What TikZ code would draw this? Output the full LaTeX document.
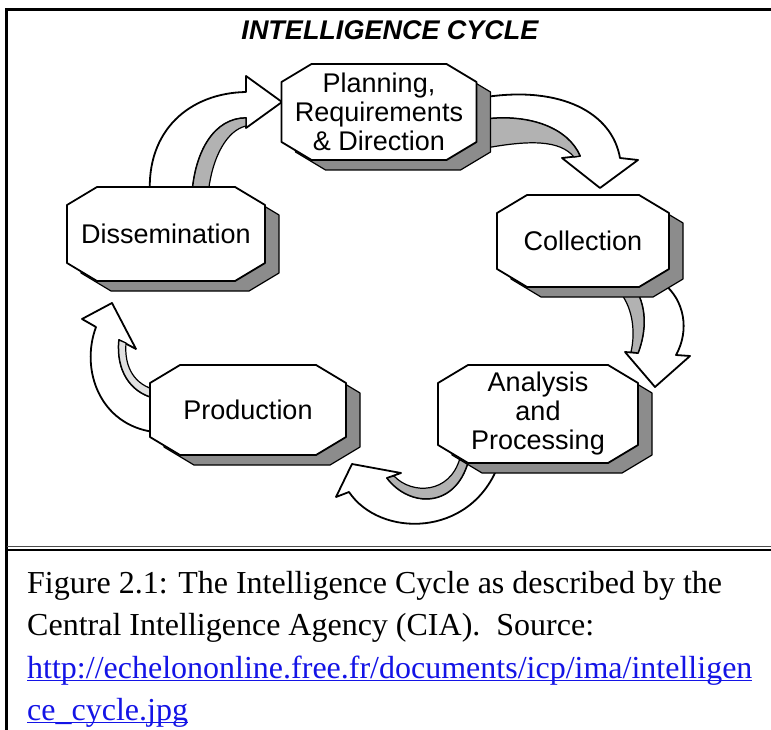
\documentclass[tikz,border=0pt]{standalone}
\usepackage{fontspec}
\setmainfont{Liberation Serif}
\newfontfamily\boxfont{Liberation Sans}
\usetikzlibrary{calc}
\definecolor{linkblue}{RGB}{20,20,230}
\newcommand{\linktext}[1]{\textcolor{linkblue}{\underline{\smash{#1}}}}
\pgfdeclarelayer{bg}
\pgfsetlayers{bg,main}
\tikzset{
  stage/.style={inner sep=0pt, outer sep=0pt, align=center,
    font=\boxfont\fontsize{27}{29}\selectfont},
  boxface/.style={draw=black, fill=white, line width=1.8pt, line join=round},
  boxshade/.style={draw=black, fill=black!45, line width=1.2pt, line join=round},
  arrowface/.style={draw=black, fill=white, line width=1.8pt, line join=round},
  arrowside/.style={draw=black, fill=black!30, line width=1.2pt, line join=round},
  frame/.style={line width=2.4pt}
}
% octagon round node #1, shifted by (#2,#3)
\newcommand{\octo}[3]{%
  ($(#1.north west)+(\cx+#2,#3)$) -- ($(#1.north east)+(-\cx+#2,#3)$)
  -- ($(#1.north east)+(#2,\cy+#3)$) -- ($(#1.south east)+(#2,-\cy+#3)$)
  -- ($(#1.south east)+(-\cx+#2,#3)$) -- ($(#1.south west)+(\cx+#2,#3)$)
  -- ($(#1.south west)+(#2,-\cy+#3)$) -- ($(#1.north west)+(#2,\cy+#3)$) -- cycle}
\begin{document}
\begin{tikzpicture}[x=1pt,y=-1pt]
    \pgfmathsetmacro{\cx}{30}
    \pgfmathsetmacro{\cy}{18}
    \pgfmathsetmacro{\sx}{14}
    \pgfmathsetmacro{\sy}{10}
    \useasboundingbox (0,0) rectangle (771,730);
    \node[font=\boxfont\bfseries\itshape\fontsize{27}{30}\selectfont] (title) at (390,30) {INTELLIGENCE CYCLE};
    \node[stage, minimum width=195pt, minimum height=96pt] (plan) at (379,112) {Planning,\\Requirements\\\& Direction};
    \node[stage, minimum width=172pt, minimum height=92pt] (coll) at (583,241) {Collection};
    \node[stage, minimum width=200pt, minimum height=98pt] (ana) at (538,414) {Analysis\\and\\Processing};
    \node[stage, minimum width=196pt, minimum height=90pt] (prod) at (248,410) {Production};
    \node[stage, minimum width=198pt, minimum height=94pt] (diss) at (166,234) {Dissemination};
    \begin{pgfonlayer}{bg}
      \fill[white] (0,0) rectangle (771,730);
      % dissemination -> planning
      \draw[arrowface] (150,195) .. controls (146,130) and (190,93) .. (246,92) -- (246,76)
        -- (282,102) -- (246,128) -- (246,118) .. controls (215,118) and (195,150) .. (192,195) -- cycle;
      \draw[arrowside] (246,118) .. controls (215,118) and (195,150) .. (192,195)
        -- (208,195) .. controls (212,155) and (228,130) .. (246,126) -- cycle;
      % planning -> collection
      \draw[arrowface] (486,97) .. controls (560,86) and (612,112) .. (620,158) -- (638,160)
        -- (600,188) -- (562,158) -- (580,156) .. controls (568,128) and (530,114) .. (486,119) -- cycle;
      \draw[arrowside] (486,119) .. controls (530,114) and (568,128) .. (580,156)
        -- (574,157) .. controls (560,140) and (530,140) .. (486,148) -- cycle;
      % collection -> analysis
      \draw[arrowface] (632,284) .. controls (648,305) and (646,332) .. (638,353) -- (625,352)
        -- (655,387) -- (690,356) -- (676,355) .. controls (690,330) and (684,300) .. (664,284) -- cycle;
      \draw[arrowside] (632,284) .. controls (648,305) and (646,332) .. (638,353)
        -- (631,352) .. controls (636,330) and (632,305) .. (618,290) -- cycle;
      % analysis -> production
      \draw[arrowface] (349,492) .. controls (380,538) and (470,538) .. (498,466) -- (468,462)
        .. controls (455,508) and (410,508) .. (387,478) -- (401,473) -- (352,464) -- (336,497) -- cycle;
      \draw[arrowside] (387,478) .. controls (410,508) and (455,508) .. (468,462)
        -- (460,458) .. controls (450,494) and (412,495) .. (394,476) -- cycle;
      % production -> dissemination
      \draw[arrowface] (96,327) .. controls (80,370) and (100,425) .. (154,432) -- (154,398)
        .. controls (130,392) and (116,370) .. (119,340) -- (136,349) -- (112,303) -- (82,319) -- cycle;
      \draw[arrowside, fill=black!12] (119,340) .. controls (116,370) and (130,392) .. (154,398)
        -- (156,390) .. controls (135,385) and (124,368) .. (126,343) -- cycle;
      % boxes
      \foreach \n in {plan,coll,ana,prod,diss}{
        \draw[boxshade] \octo{\n}{\sx}{\sy};
        \draw[boxface] \octo{\n}{0}{0};
      }
    \end{pgfonlayer}
    \draw[frame] (5.5,9.5) -- (771,9.5);
    \draw[frame] (6.5,8.5) -- (6.5,730);
    \draw[line width=1.2pt, black!70] (6.5,546.5) -- (771,546.5);
    \draw[frame] (5.5,550) -- (771,550);
    \node[anchor=north west, inner sep=0pt, align=left,
      font=\fontsize{32}{42.5}\selectfont] (cap) at (27,571)
      {Figure 2.1: The Intelligence Cycle as described by the\\
       Central Intelligence Agency (CIA).~~Source:\\
       \linktext{http://echelononline.free.fr/documents/icp/ima/intelligen}\\
       \linktext{ce\_cycle.jpg}};
  \end{tikzpicture}
\end{document}
